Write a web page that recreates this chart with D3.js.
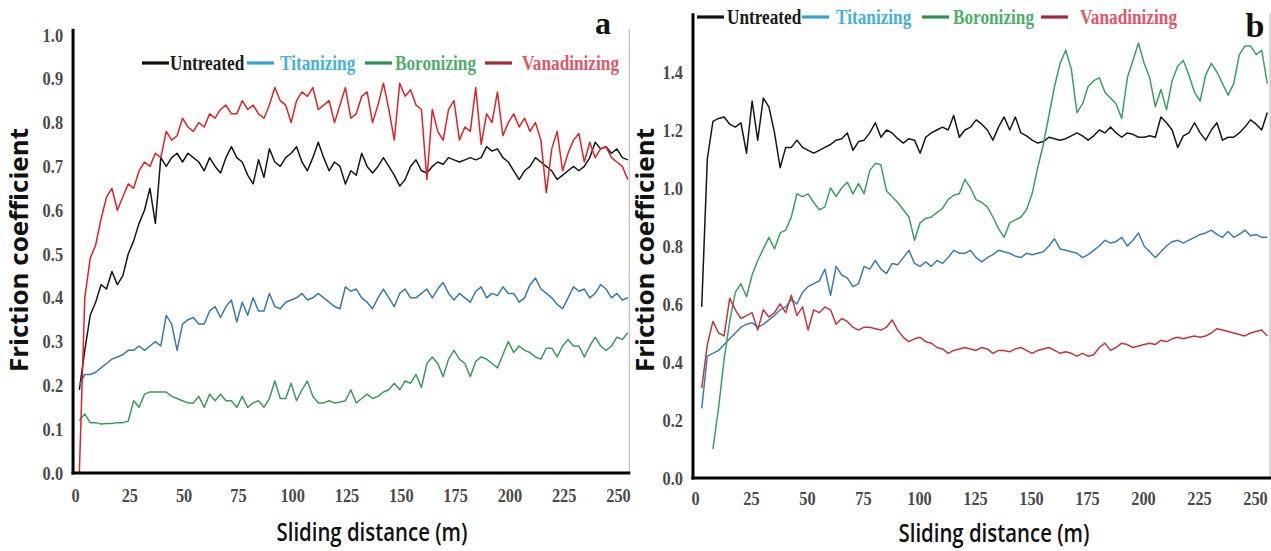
<!DOCTYPE html>
<html><head><meta charset="utf-8">
<script src="https://cdn.jsdelivr.net/npm/d3@7"></script>
<style>body{margin:0;background:#fff}svg{display:block}</style>
</head><body>
<svg id="c" width="1271" height="551"></svg>
<script>
// ---------- DATA ----------
const seriesNames = ["Untreated", "Titanizing", "Boronizing", "Vanadinizing"];
const xTickValues = [0, 25, 50, 75, 100, 125, 150, 175, 200, 225, 250];
const yTickValuesA = [0, 0.1, 0.2, 0.3, 0.4, 0.5, 0.6, 0.7, 0.8, 0.9, 1.0];
const yTickValuesB = [0, 0.2, 0.4, 0.6, 0.8, 1.0, 1.2, 1.4];
const xLabel = "Sliding distance (m)";
const yLabel = "Friction coefficient";
const panelLetters = ["a", "b"];

// sampling of the distance axis (m): first sample and step
const aStart = 2, bStart = 3, sampleStep = 2.5;

// Panel a
const aUntreated = [0.19,0.28,0.36,0.39,0.43,0.42,0.46,0.43,0.45,0.50,
 0.53,0.57,0.60,0.65,0.57,0.72,0.70,0.72,0.73,0.71,
 0.73,0.72,0.71,0.69,0.72,0.70,0.685,0.72,0.745,0.72,
 0.71,0.68,0.66,0.715,0.675,0.74,0.71,0.70,0.72,0.73,
 0.745,0.71,0.69,0.72,0.755,0.72,0.69,0.71,0.70,0.66,
 0.69,0.68,0.73,0.70,0.685,0.70,0.72,0.70,0.68,0.655,
 0.67,0.70,0.715,0.69,0.685,0.70,0.71,0.705,0.72,0.715,
 0.71,0.715,0.72,0.715,0.72,0.745,0.735,0.74,0.72,0.71,
 0.69,0.67,0.69,0.70,0.72,0.71,0.70,0.69,0.67,0.68,
 0.69,0.70,0.69,0.70,0.72,0.755,0.74,0.745,0.73,0.74,
 0.72,0.715];
const aTitanizing = [0.20,0.225,0.225,0.23,0.24,0.25,0.26,0.265,0.27,0.28,
 0.28,0.29,0.28,0.29,0.30,0.29,0.36,0.34,0.28,0.34,
 0.35,0.355,0.34,0.34,0.37,0.38,0.355,0.38,0.395,0.345,
 0.39,0.36,0.40,0.37,0.37,0.41,0.38,0.375,0.39,0.395,
 0.40,0.41,0.395,0.40,0.41,0.40,0.39,0.38,0.375,0.425,
 0.415,0.42,0.40,0.39,0.375,0.40,0.42,0.40,0.38,0.41,
 0.42,0.40,0.40,0.41,0.42,0.40,0.42,0.435,0.41,0.395,
 0.41,0.40,0.39,0.415,0.425,0.40,0.41,0.405,0.425,0.41,
 0.41,0.39,0.40,0.43,0.445,0.42,0.41,0.40,0.385,0.375,
 0.40,0.425,0.415,0.42,0.40,0.41,0.43,0.42,0.40,0.41,
 0.395,0.40];
const aBoronizing = [0.12,0.135,0.115,0.115,0.112,0.113,0.113,0.115,0.115,0.118,
 0.165,0.15,0.18,0.185,0.185,0.185,0.185,0.175,0.17,0.165,
 0.16,0.16,0.175,0.15,0.18,0.165,0.18,0.165,0.165,0.15,
 0.175,0.15,0.16,0.165,0.15,0.17,0.21,0.17,0.17,0.205,
 0.165,0.19,0.21,0.175,0.16,0.16,0.165,0.16,0.162,0.165,
 0.19,0.16,0.17,0.18,0.17,0.175,0.185,0.19,0.205,0.19,
 0.21,0.205,0.225,0.195,0.25,0.265,0.25,0.22,0.26,0.28,
 0.26,0.25,0.22,0.255,0.265,0.26,0.25,0.24,0.27,0.30,
 0.275,0.29,0.28,0.275,0.265,0.26,0.285,0.285,0.265,0.29,
 0.305,0.29,0.29,0.265,0.29,0.31,0.29,0.28,0.29,0.31,
 0.305,0.32];
const aVanadinizing = [0.0,0.40,0.49,0.52,0.58,0.63,0.65,0.60,0.63,0.66,
 0.65,0.69,0.71,0.70,0.73,0.72,0.78,0.76,0.77,0.81,
 0.79,0.78,0.80,0.79,0.82,0.81,0.83,0.84,0.82,0.82,
 0.85,0.83,0.84,0.82,0.81,0.84,0.88,0.85,0.84,0.80,
 0.85,0.87,0.86,0.88,0.83,0.84,0.85,0.80,0.84,0.88,
 0.81,0.82,0.86,0.87,0.80,0.84,0.89,0.83,0.76,0.89,
 0.86,0.875,0.84,0.83,0.67,0.83,0.78,0.76,0.83,0.85,
 0.76,0.79,0.78,0.88,0.75,0.82,0.80,0.87,0.77,0.80,
 0.82,0.79,0.81,0.78,0.80,0.76,0.64,0.74,0.78,0.69,
 0.73,0.76,0.775,0.71,0.755,0.72,0.74,0.745,0.72,0.71,
 0.70,0.67];

// Panel b
const bUntreated = [0.59,1.10,1.23,1.24,1.245,1.22,1.21,1.225,1.12,1.30,
 1.165,1.31,1.28,1.19,1.07,1.14,1.14,1.165,1.14,1.13,
 1.12,1.13,1.14,1.15,1.165,1.17,1.19,1.13,1.16,1.165,
 1.19,1.225,1.175,1.20,1.19,1.17,1.155,1.17,1.165,1.12,
 1.175,1.19,1.20,1.21,1.20,1.25,1.175,1.20,1.21,1.235,
 1.22,1.20,1.165,1.21,1.245,1.20,1.245,1.19,1.18,1.165,
 1.155,1.16,1.175,1.17,1.165,1.17,1.18,1.19,1.18,1.165,
 1.18,1.20,1.19,1.21,1.19,1.175,1.19,1.185,1.175,1.175,
 1.18,1.175,1.245,1.225,1.20,1.14,1.18,1.19,1.225,1.19,
 1.165,1.20,1.225,1.165,1.175,1.175,1.19,1.21,1.235,1.22,
 1.20,1.26];
const bTitanizing = [0.24,0.42,0.43,0.44,0.46,0.48,0.50,0.52,0.53,0.535,
 0.52,0.53,0.545,0.56,0.58,0.59,0.615,0.60,0.64,0.66,
 0.67,0.68,0.72,0.63,0.73,0.70,0.69,0.66,0.67,0.73,
 0.72,0.75,0.72,0.705,0.74,0.735,0.76,0.785,0.74,0.73,
 0.745,0.73,0.75,0.74,0.76,0.785,0.775,0.775,0.785,0.76,
 0.745,0.76,0.77,0.785,0.78,0.775,0.765,0.76,0.775,0.77,
 0.775,0.78,0.80,0.825,0.79,0.785,0.78,0.775,0.76,0.77,
 0.785,0.80,0.82,0.81,0.815,0.83,0.80,0.82,0.845,0.80,
 0.78,0.76,0.78,0.80,0.815,0.82,0.81,0.82,0.83,0.84,
 0.845,0.855,0.84,0.83,0.85,0.83,0.84,0.855,0.835,0.84,
 0.83,0.83];
const bBoronizing = [null,null,0.10,0.24,0.41,0.54,0.64,0.67,0.625,0.70,
 0.75,0.79,0.83,0.79,0.845,0.855,0.90,0.98,0.97,0.98,
 0.95,0.925,0.935,1.00,0.97,1.00,1.02,0.98,1.015,0.98,
 1.06,1.085,1.08,0.99,0.97,0.95,0.925,0.90,0.82,0.88,
 0.895,0.90,0.915,0.93,0.96,0.975,0.98,1.03,1.00,0.96,
 0.95,0.935,0.90,0.86,0.83,0.88,0.89,0.90,0.925,0.98,
 1.07,1.15,1.25,1.35,1.43,1.475,1.41,1.26,1.29,1.35,
 1.37,1.38,1.33,1.31,1.29,1.24,1.38,1.44,1.50,1.43,
 1.38,1.28,1.34,1.27,1.37,1.42,1.44,1.39,1.33,1.30,
 1.39,1.43,1.40,1.36,1.32,1.36,1.46,1.49,1.49,1.46,
 1.475,1.36];
const bVanadinizing = [0.31,0.46,0.54,0.50,0.49,0.62,0.58,0.55,0.56,0.57,
 0.51,0.58,0.555,0.57,0.60,0.57,0.63,0.56,0.59,0.51,
 0.58,0.57,0.59,0.58,0.53,0.55,0.54,0.52,0.51,0.52,
 0.52,0.515,0.51,0.52,0.545,0.51,0.485,0.47,0.48,0.485,
 0.47,0.465,0.45,0.445,0.43,0.44,0.445,0.45,0.445,0.44,
 0.45,0.445,0.43,0.44,0.44,0.435,0.445,0.45,0.44,0.43,
 0.44,0.445,0.45,0.44,0.43,0.435,0.43,0.42,0.43,0.42,
 0.425,0.45,0.465,0.44,0.45,0.465,0.46,0.45,0.455,0.46,
 0.465,0.46,0.475,0.47,0.48,0.485,0.48,0.485,0.49,0.485,
 0.49,0.50,0.515,0.51,0.505,0.50,0.495,0.49,0.50,0.505,
 0.51,0.49];

// ---------- STYLE / LAYOUT ----------
const legendLineColors = ["#111111", "#3a9fd5", "#2f8f4f", "#a3283a"];
const legendTextColors = ["#1a1a1a", "#45b0e0", "#4fae6c", "#e0566a"];
const serif = "'Liberation Serif','Times New Roman',serif";
const sans = "'Open Sans','Noto Sans',sans-serif";

const panels = [
  {
    letter: panelLetters[0], start: aStart,
    series: [aUntreated, aTitanizing, aBoronizing, aVanadinizing],
    colors: ["#161616", "#3878ad", "#3c9a60", "#dd2327"],
    yDomain: [0, 1], yTicks: yTickValuesA,
    xRange: [75, 618], yRange: [473, 35],
    xMin: -0.9, xMax: 255.2, yTop: 1.014,
    xTickPad: 16,
    legendY: 63, legendLineX: [142, 247, 365, 485], legendTextX: [170, 280, 395, 522],
    letterX: 603, letterY: 34, letterSize: 32,
    yLabelX: 18, xLabelX: 372, xLabelY: 541
  },
  {
    letter: panelLetters[1], start: bStart,
    series: [bUntreated, bTitanizing, bBoronizing, bVanadinizing],
    colors: ["#161616", "#3b7cb3", "#3aa062", "#c2353f"],
    yDomain: [0, 1.4], yTicks: yTickValuesB,
    xRange: [695, 1255], yRange: [478, 72],
    xMin: -0.9, xMax: 256.7, yTop: 1.603,
    xTickPad: 14,
    legendY: 17, legendLineX: [697, 802, 922, 1041], legendTextX: [727, 836, 953, 1080],
    letterX: 1255, letterY: 37, letterSize: 34,
    yLabelX: 644, xLabelX: 994, xLabelY: 542
  }
];

// ---------- DRAW ----------
const svg = d3.select("#c");
const fmt = d3.format(".1f");

function condense(sel, f) {
  sel.each(function () {
    const w = this.getComputedTextLength();
    d3.select(this).attr("textLength", w * f).attr("lengthAdjust", "spacingAndGlyphs");
  });
}

panels.forEach(p => {
  const g = svg.append("g");
  const x = d3.scaleLinear().domain([0, 250]).range(p.xRange);
  const y = d3.scaleLinear().domain(p.yDomain).range(p.yRange);

  // light right frame
  g.append("line")
    .attr("x1", x(p.xMax)).attr("x2", x(p.xMax))
    .attr("y1", y(p.yTop)).attr("y2", y(0))
    .attr("stroke", "#c4c4c4").attr("stroke-width", 1.3);

  // data lines
  p.series.forEach((vals, k) => {
    const line = d3.line()
      .defined(v => v != null)
      .x((v, i) => x(p.start + i * sampleStep))
      .y(v => y(v));
    g.append("path").datum(vals)
      .attr("d", line)
      .attr("fill", "none")
      .attr("stroke", p.colors[k])
      .attr("stroke-width", 1.5)
      .attr("stroke-linejoin", "round");
  });

  // y axis
  const gy = g.append("g").attr("transform", `translate(${x(p.xMin)},0)`)
    .call(d3.axisLeft(y).tickValues(p.yTicks).tickFormat(fmt).tickSize(0).tickPadding(10));
  gy.select(".domain").remove();
  gy.selectAll("text").attr("font-family", serif).attr("font-weight", "bold")
    .attr("font-size", 19).attr("fill", "#4a4a4a").call(condense, 0.86);

  // x axis
  const gx = g.append("g").attr("transform", `translate(0,${y(0)})`)
    .call(d3.axisBottom(x).tickValues(xTickValues).tickFormat(d3.format("d")).tickSize(0).tickPadding(p.xTickPad));
  gx.select(".domain").remove();
  gx.selectAll("text").attr("font-family", serif).attr("font-weight", "bold")
    .attr("font-size", 19).attr("fill", "#4a4a4a").call(condense, 0.86);

  // axis lines
  g.append("line").attr("x1", x(p.xMin)).attr("x2", x(p.xMin))
    .attr("y1", y(p.yTop)).attr("y2", y(0) + 1.5)
    .attr("stroke", "#000").attr("stroke-width", 3);
  g.append("line").attr("x1", x(p.xMin) - 1.5).attr("x2", x(p.xMax) + 1)
    .attr("y1", y(0)).attr("y2", y(0))
    .attr("stroke", "#000").attr("stroke-width", 3.2);

  // legend
  seriesNames.forEach((name, k) => {
    g.append("line")
      .attr("x1", p.legendLineX[k]).attr("x2", p.legendLineX[k] + 27)
      .attr("y1", p.legendY).attr("y2", p.legendY)
      .attr("stroke", legendLineColors[k]).attr("stroke-width", 3.2);
    g.append("text")
      .attr("x", p.legendTextX[k]).attr("y", p.legendY + 7)
      .attr("font-family", serif).attr("font-weight", "bold").attr("font-size", 21)
      .attr("fill", legendTextColors[k]).text(name).call(condense, 0.82);
  });

  // panel letter
  g.append("text").attr("x", p.letterX).attr("y", p.letterY)
    .attr("text-anchor", "middle")
    .attr("font-family", serif).attr("font-weight", "bold").attr("font-size", p.letterSize)
    .attr("fill", "#111").text(p.letter);

  // axis titles
  g.append("text")
    .attr("transform", `translate(${p.yLabelX},250) rotate(-90)`)
    .attr("text-anchor", "middle").attr("dominant-baseline", "central")
    .attr("font-family", sans).attr("font-weight", "bold").attr("font-size", 25)
    .attr("fill", "#111").attr("textLength", 244).attr("lengthAdjust", "spacingAndGlyphs")
    .text(yLabel);
  g.append("text")
    .attr("x", p.xLabelX).attr("y", p.xLabelY)
    .attr("text-anchor", "middle")
    .attr("font-family", sans).attr("font-weight", 600).attr("font-size", 25)
    .attr("fill", "#111").attr("textLength", 191).attr("lengthAdjust", "spacingAndGlyphs")
    .text(xLabel);
});
</script>
</body></html>
